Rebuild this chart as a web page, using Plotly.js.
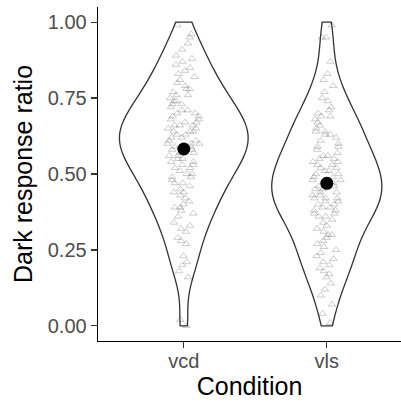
<!DOCTYPE html>
<html>
<head>
<meta charset="utf-8">
<script src="https://cdn.plot.ly/plotly-3.0.1.min.js"></script>
<style>html,body{margin:0;padding:0;background:#fff;}#chart{width:401px;height:403px;}</style>
</head>
<body>
<div id="chart"></div>
<script>
var categories = ["vcd", "vls"];

var vcdValues = [0.00,0.02,
 0.16,0.18,0.20,0.21,0.23,
 0.27,0.28,0.29,
 0.31,0.32,0.33,0.34,
 0.36,0.37,0.38,0.39,0.39,
 0.40,0.41,0.42,0.43,0.44,0.44,
 0.45,0.46,0.47,0.47,0.48,0.49,0.49,
 0.50,0.50,0.51,0.52,0.52,0.53,0.53,0.54,0.54,
 0.55,0.55,0.56,0.56,0.57,0.57,0.58,0.58,0.59,0.59,0.59,
 0.60,0.60,0.60,0.61,0.61,0.62,0.62,0.63,0.63,0.64,0.64,0.64,
 0.65,0.65,0.66,0.66,0.66,0.67,0.67,0.68,0.68,0.69,0.69,
 0.70,0.70,0.71,0.71,0.72,0.73,0.73,0.74,0.74,
 0.75,0.76,0.76,0.77,0.78,0.78,0.79,
 0.80,0.81,0.82,0.83,0.84,
 0.85,0.86,0.87,0.88,0.89,
 0.91,0.93,0.95,0.96,0.99];

var vlsValues = [0.01,0.04,0.07,
 0.10,0.12,0.14,0.16,0.17,0.18,0.19,
 0.20,0.21,0.22,0.23,0.24,
 0.25,0.26,0.27,0.28,0.29,
 0.30,0.30,0.31,0.32,0.33,0.34,
 0.35,0.36,0.36,0.37,0.37,0.38,0.38,0.39,0.39,
 0.40,0.40,0.41,0.41,0.42,0.42,0.42,0.43,0.43,0.44,0.44,
 0.45,0.45,0.46,0.46,0.47,0.47,0.48,0.48,0.49,0.49,
 0.50,0.50,0.51,0.51,0.52,0.52,0.53,0.53,0.54,0.54,
 0.55,0.55,0.56,0.56,0.57,0.58,0.59,0.59,
 0.60,0.61,0.62,0.63,0.63,0.64,0.64,
 0.65,0.66,0.67,0.68,0.69,0.69,
 0.70,0.71,0.72,0.74,
 0.75,0.77,0.79,
 0.81,0.83,0.87,
 0.95,0.95,0.99];

var yTickVals = [0, 0.25, 0.5, 0.75, 1];
var yTickText = ["0.00", "0.25", "0.50", "0.75", "1.00"];

function mean(a){ return a.reduce(function(s,v){return s+v;},0)/a.length; }
function quantile7(a, p){
  var s = a.slice().sort(function(x,y){return x-y;});
  var h = (s.length-1)*p, lo = Math.floor(h), hi = Math.ceil(h);
  return s[lo] + (h-lo)*(s[hi]-s[lo]);
}
function bwNrd0(a){
  var m = mean(a);
  var sd = Math.sqrt(a.reduce(function(s,v){return s+(v-m)*(v-m);},0)/(a.length-1));
  var iqr = quantile7(a,0.75)-quantile7(a,0.25);
  return 0.9*Math.min(sd, iqr/1.34)*Math.pow(a.length,-0.2);
}

function violinTrace(cat, vals, width, jitter){
  return {
    type: 'violin',
    x: vals.map(function(){return cat;}),
    y: vals,
    width: width,
    bandwidth: bwNrd0(vals),
    spanmode: 'manual',
    span: [0, 1],
    scalemode: 'width',
    points: 'all',
    pointpos: 0,
    jitter: jitter,
    fillcolor: 'rgba(255,255,255,0)',
    line: {color: '#333333', width: 1.3},
    marker: {symbol: 'triangle-up-open', size: 6.5, color: 'rgba(60,60,60,0.33)', line: {width: 0.8}},
    box: {visible: false},
    meanline: {visible: false},
    hoverinfo: 'skip',
    showlegend: false
  };
}

var means = [mean(vcdValues), mean(vlsValues)];

var data = [
  violinTrace(categories[0], vcdValues, 0.9, 0.26),
  violinTrace(categories[1], vlsValues, 0.77, 0.3),
  {type: 'scatter', mode: 'markers', x: categories, y: means,
   marker: {color: '#000000', size: 13}, hoverinfo: 'skip', showlegend: false}
];

var layout = {
  width: 401, height: 403,
  margin: {l: 98, r: 0, t: 7, b: 62, pad: 0},
  paper_bgcolor: '#ffffff', plot_bgcolor: '#ffffff',
  font: {family: 'Liberation Sans, Arial, sans-serif', color: '#000000'},
  violinmode: 'overlay',
  showlegend: false,
  hovermode: false,
  xaxis: {
    type: 'category', range: [-0.6, 1.519], fixedrange: true,
    showgrid: false, zeroline: false,
    showline: true, linecolor: '#000000', linewidth: 1.3,
    ticks: 'outside', ticklen: 6, tickwidth: 1.3, tickcolor: '#333333',
    ticklabelstandoff: -4,
    tickfont: {size: 20, color: '#4D4D4D'},
    title: {text: 'Condition', font: {size: 25, color: '#000000'}, standoff: 6}
  },
  yaxis: {
    range: [-0.05, 1.05], fixedrange: true,
    showgrid: false, zeroline: false,
    showline: true, linecolor: '#000000', linewidth: 1.3,
    ticks: 'outside', ticklen: 6, tickwidth: 1.3, tickcolor: '#333333',
    tickvals: yTickVals, ticktext: yTickText,
    tickfont: {size: 20, color: '#4D4D4D'},
    title: {text: 'Dark response ratio', font: {size: 25, color: '#000000'}, standoff: 8}
  }
};

Plotly.newPlot('chart', data, layout, {staticPlot: true, displayModeBar: false});
</script>
</body>
</html>
